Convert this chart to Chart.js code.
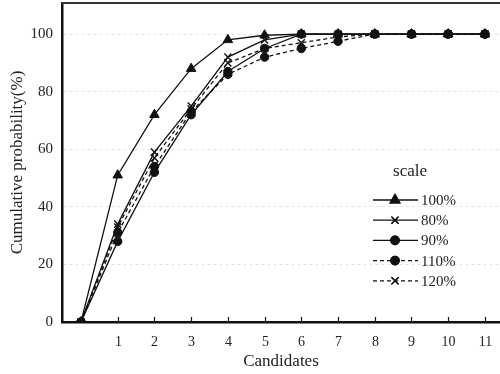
<!DOCTYPE html>
<html>
<head>
<meta charset="utf-8">
<script src="https://cdn.jsdelivr.net/npm/chart.js@4.4.1/dist/chart.umd.min.js"></script>
<style>
  html, body { margin: 0; padding: 0; background: #fff; }
  #wrap { width: 500px; height: 374px; }
</style>
</head>
<body>
<div id="wrap"><canvas id="cdfChart" width="500" height="374"></canvas></div>
<script>
const candidates = [0, 1, 2, 3, 4, 5, 6, 7, 8, 9, 10, 11];
const scale100 = [0, 51, 72, 88, 98, 99.6, 100, 100, 100, 100, 100, 100];
const scale80  = [0, 34, 59, 75, 92, 98, 100, 100, 100, 100, 100, 100];
const scale90  = [0, 28, 52, 72, 87, 95, 100, 100, 100, 100, 100, 100];
const scale110 = [0, 31, 54, 73, 86, 92, 95, 97.5, 100, 100, 100, 100];
const scale120 = [0, 33, 57, 74, 90, 95, 97, 99, 100, 100, 100, 100];
const seriesNames = ['100%', '80%', '90%', '110%', '120%'];
const xTicks = [1, 2, 3, 4, 5, 6, 7, 8, 9, 10, 11];
const yTicks = [0, 20, 40, 60, 80, 100];

const serif = '"Liberation Serif", "Times New Roman", serif';
Chart.defaults.font.family = serif;
Chart.defaults.color = '#222';

function series(label, values, style, radius, dashed) {
    return {
        label: label,
        data: candidates.map((c, i) => ({ x: c, y: values[i] })),
        borderColor: '#111',
        backgroundColor: '#111',
        borderWidth: 1.3,
        borderDash: dashed ? [4, 3] : [],
        pointStyle: style,
        pointRadius: radius,
        pointBorderWidth: style === 'crossRot' ? 1.4 : 1,
        pointBackgroundColor: '#111',
        pointBorderColor: '#111',
        tension: 0
    };
}

const datasets = [
    series(seriesNames[0], scale100, 'triangle', 5.5, false),
    series(seriesNames[1], scale80, 'crossRot', 5, false),
    series(seriesNames[2], scale90, 'circle', 4.2, false),
    series(seriesNames[3], scale110, 'circle', 4.2, true),
    series(seriesNames[4], scale120, 'crossRot', 5, true)
];

// top frame line, inward tick marks and labels for the x axis
// (labels drawn here so the "11" label does not shrink the plot on the right)
const framePlugin = {
    id: 'frame',
    afterDraw(chart) {
        const { ctx, chartArea, scales } = chart;
        ctx.save();
        ctx.strokeStyle = '#333';
        ctx.lineWidth = 2;
        ctx.beginPath();
        ctx.moveTo(chartArea.left - 1, chartArea.top);
        ctx.lineTo(chartArea.right, chartArea.top);
        ctx.stroke();
        ctx.strokeStyle = '#111';
        ctx.lineWidth = 1.2;
        ctx.fillStyle = '#222';
        ctx.font = '14px ' + serif;
        ctx.textAlign = 'center';
        ctx.textBaseline = 'middle';
        xTicks.forEach((v) => {
            const px = Math.round(scales.x.getPixelForValue(v)) + 0.5;
            ctx.beginPath();
            ctx.moveTo(px, chartArea.bottom);
            ctx.lineTo(px, chartArea.bottom - 5);
            ctx.stroke();
            ctx.fillText(String(v), px, chartArea.bottom + 20);
        });
        ctx.restore();
    }
};

// legend inside the plot, line sample + marker + label
const legendPlugin = {
    id: 'scaleLegend',
    afterDraw(chart) {
        const ctx = chart.ctx;
        ctx.save();
        ctx.fillStyle = '#222';
        ctx.font = '17px ' + serif;
        ctx.textAlign = 'center';
        ctx.textBaseline = 'middle';
        ctx.fillText('scale', 410, 172);
        chart.data.datasets.forEach((ds, i) => {
            const y = 200 + i * 20.2;
            ctx.strokeStyle = '#111';
            ctx.lineWidth = 1.3;
            ctx.setLineDash(ds.borderDash);
            ctx.beginPath();
            ctx.moveTo(373, y);
            ctx.lineTo(418, y);
            ctx.stroke();
            ctx.setLineDash([]);
            Chart.helpers.drawPoint(ctx, {
                pointStyle: ds.pointStyle,
                radius: ds.pointRadius,
                borderWidth: ds.pointBorderWidth,
                rotation: 0
            }, 395, y);
            ctx.fillStyle = '#111';
            ctx.fill();
            ctx.stroke();
            ctx.fillStyle = '#222';
            ctx.font = '15px ' + serif;
            ctx.textAlign = 'left';
            ctx.fillText(ds.label, 421, y + 1);
        });
        ctx.restore();
    }
};

new Chart(document.getElementById('cdfChart').getContext('2d'), {
    type: 'line',
    data: { datasets: datasets },
    options: {
        responsive: false,
        animation: false,
        devicePixelRatio: 1,
        layout: { autoPadding: false, padding: { top: 3, right: 0, left: 0, bottom: 0 } },
        plugins: { legend: { display: false }, tooltip: { enabled: false } },
        scales: {
            x: {
                type: 'linear',
                min: -0.517,
                max: 11.41,
                afterBuildTicks: (s) => { s.ticks = xTicks.map((v) => ({ value: v })); },
                afterFit: (s) => { s.height = 52; },
                grid: { display: false },
                border: { display: true, color: '#111', width: 2.5 },
                ticks: { display: false },
                title: { display: true, text: 'Candidates', font: { size: 17 }, color: '#222', padding: { top: 0, bottom: 2 } }
            },
            y: {
                min: 0,
                max: 110.8,
                afterBuildTicks: (s) => { s.ticks = yTicks.map((v) => ({ value: v })); },
                afterFit: (s) => { s.width = 62; s.paddingTop = 0; s.paddingBottom = 0; },
                grid: { color: '#e2e2e2', drawTicks: false, lineWidth: 1 },
                border: { display: true, color: '#111', width: 2.5, dash: [3, 3] },
                ticks: { font: { size: 15 }, color: '#222', padding: 9 },
                title: { display: true, text: 'Cumulative probability(%)', font: { size: 17 }, color: '#222', padding: { top: 7, bottom: 0 } }
            }
        }
    },
    plugins: [framePlugin, legendPlugin]
});
</script>
</body>
</html>
